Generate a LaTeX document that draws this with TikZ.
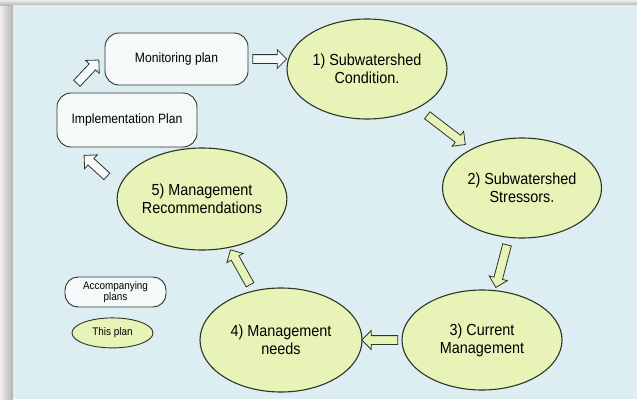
\documentclass[tikz,border=0pt]{standalone}
\usepackage{fontspec}
\setmainfont{Liberation Sans}[FakeStretch=0.9]
\usepackage{xcolor}
\usepackage{tikz}
\usetikzlibrary{shapes.geometric, shapes.arrows, positioning}
\definecolor{panelblue}{RGB}{221, 238, 243}
\definecolor{stepgreen}{RGB}{231, 243, 183}
\definecolor{edgegray}{RGB}{45, 52, 40}
\definecolor{planwhite}{RGB}{246, 249, 250}

\begin{document}
\begin{tikzpicture}[
    x=1pt, y=-1pt,
    stage/.style={ellipse, draw=edgegray, line width=1.1pt, fill=stepgreen, inner sep=0pt, minimum width=160pt, minimum height=100pt, align=center, text=black, font=\fontsize{16}{18}\selectfont},
    plan/.style={rectangle, rounded corners=14pt, draw=edgegray, line width=0.9pt, fill=planwhite, inner sep=0pt, minimum width=141pt, minimum height=52pt, align=center, text=black, font=\fontsize{13.5}{15}\selectfont},
    flowarrow/.style={single arrow, draw=edgegray, line width=0.8pt, fill=stepgreen, inner xsep=0pt, inner ysep=4pt, single arrow head extend=5pt, single arrow head indent=0pt, sloped, allow upside down},
    planarrow/.style={flowarrow, fill=planwhite}
]

\useasboundingbox (0,0) rectangle (637,399);
\fill[gray!45] (0,0) rectangle (637,399);
\shade[left color=gray!12, right color=gray!60] (0,0) rectangle (13,399);
\shade[top color=gray!15, bottom color=gray!55] (0,0) rectangle (637,5);
\fill[panelblue] (13,5) rectangle (637,399);

\node[plan, minimum width=143pt] (Mon) at (176.5,59) {Monitoring plan};
\node[plan, minimum width=140pt, minimum height=54pt] (Impl) at (127,120) {Implementation Plan};

\node[stage] (S1) at (367,69) {1) Subwatershed\\Condition.};
\node[stage, minimum width=159pt] (S2) at (522,188) {2) Subwatershed\\Stressors.};
\node[stage] (S3) at (482,340) {3) Current\\Management};
\node[stage, minimum width=162pt, minimum height=104pt] (S4) at (281,340) {4) Management\\needs};
\node[stage, minimum width=166pt, minimum height=102pt] (S5) at (202,199) {5) Management\\Recommendations};

\path (S1) -- node[flowarrow, minimum height=48pt] {} (S2);
\path (S2) -- node[flowarrow, minimum height=44pt] {} (S3);
\path (S3) -- node[flowarrow, minimum height=36pt] {} (S4);
\path (S4) -- node[flowarrow, minimum height=40pt] {} (S5);
\path (S5.172) -- node[planarrow, minimum height=31pt] {} (Impl.208);
\path (Impl.155) -- node[planarrow, minimum height=32pt] {} (Mon.176);
\path (Mon.east) -- node[planarrow, minimum height=34pt] {} (Mon.east -| S1.west);

\node[plan, rounded corners=13pt, minimum width=101pt, minimum height=30pt, font=\fontsize{11}{11}\selectfont] (Acc) at (115.5,292) {Accompanying\\plans};
\node[stage, line width=0.9pt, minimum width=81pt, minimum height=30pt, font=\fontsize{11}{11}\selectfont, below=10pt of Acc, xshift=-3pt] (Own) {This plan};
\end{tikzpicture}
\end{document}
